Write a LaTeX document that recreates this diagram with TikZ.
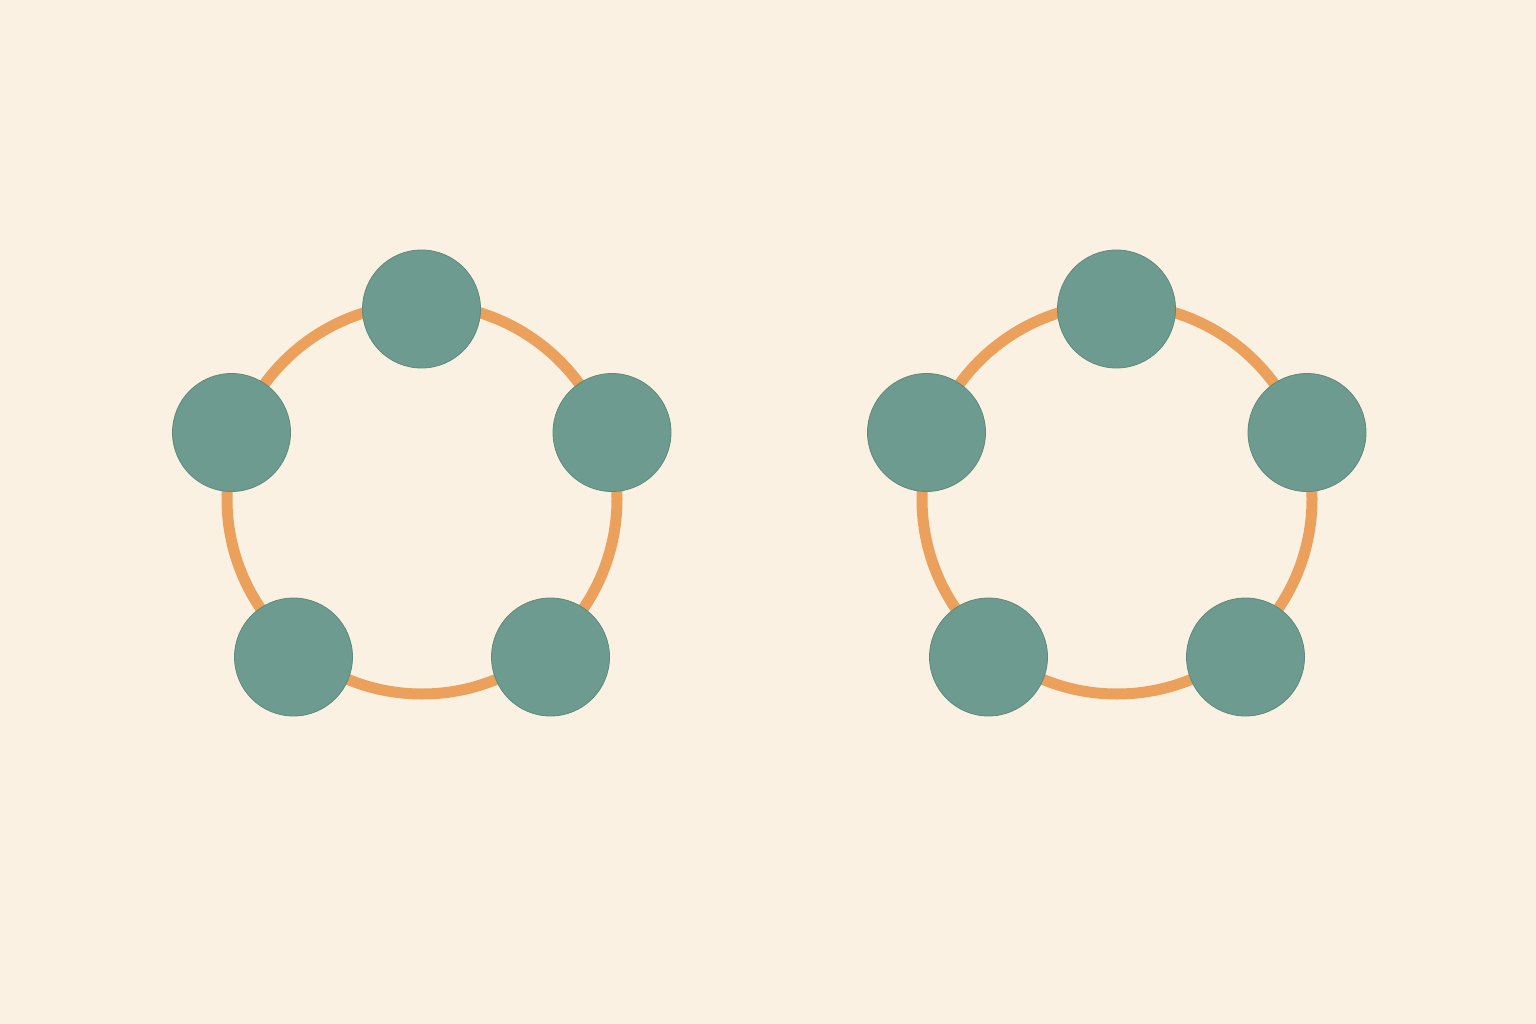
\documentclass[tikz,border=0pt]{standalone}
\definecolor{bg}{HTML}{FBF1E3}
\definecolor{teal}{HTML}{6E9B8F}
\definecolor{tealedge}{HTML}{5C8A7E}
\definecolor{ring}{HTML}{EBA05C}
\tikzset{
  dot/.style={circle, fill=teal, draw=tealedge, line width=0.8pt, minimum size=118pt, inner sep=0pt},
  ringline/.style={draw=ring, line width=11pt}
}
\begin{document}
\begin{tikzpicture}[x=1pt,y=-1pt]
\fill[bg] (0,0) rectangle (1536,1024);
\useasboundingbox (0,0) rectangle (1536,1024);
\foreach \s/\dx in {L/0, R/695}{
  \coordinate (c\s) at (422+\dx,499);
  \draw[ringline] (c\s) circle[radius=195pt];
  \node[dot] (\s top) at (421.5+\dx,309) {};
  \node[dot] (\s left) at (231.5+\dx,432.5) {};
  \node[dot] (\s right) at (612+\dx,432.5) {};
  \node[dot] (\s bl) at (293.5+\dx,657) {};
  \node[dot] (\s br) at (550.5+\dx,657) {};
}
\end{tikzpicture}
\end{document}
